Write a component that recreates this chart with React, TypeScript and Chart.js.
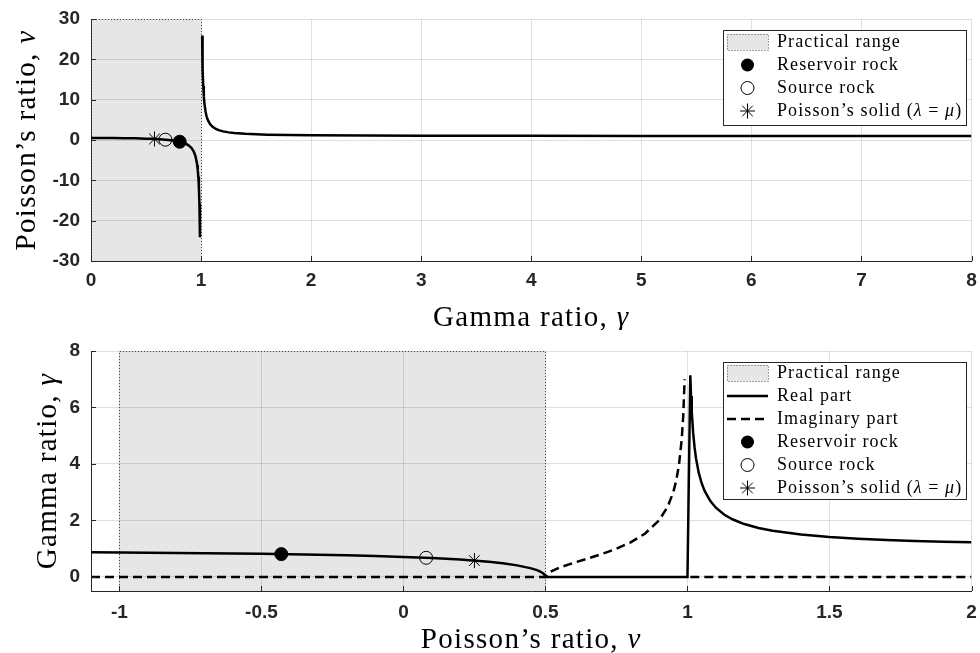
import React, { useEffect, useRef } from 'react';
import { Chart, registerables } from 'chart.js';

Chart.register(...registerables);

// ---- Upper panel: Poisson's ratio as a function of the gamma ratio ----
const GAMMA_LOW = [0, 0.1, 0.2, 0.3, 0.4, 0.5, 0.55, 0.6, 0.65, 0.7, 0.75, 0.8, 0.82, 0.84, 0.86, 0.88, 0.9, 0.91, 0.92, 0.93, 0.94, 0.95, 0.96, 0.965, 0.97, 0.975, 0.98, 0.985, 0.99];
const NU_LOW = [0.5, 0.495, 0.479, 0.451, 0.405, 0.333, 0.283, 0.219, 0.134, 0.02, -0.143, -0.389, -0.526, -0.698, -0.92, -1.216, -1.632, -1.909, -2.255, -2.701, -3.296, -4.128, -5.378, -6.27, -7.46, -9.127, -11.63, -15.79, -24.13];
const GAMMA_HIGH = [1.01, 1.0125, 1.015, 1.02, 1.025, 1.03, 1.04, 1.05, 1.06, 1.08, 1.1, 1.13, 1.16, 1.2, 1.25, 1.3, 1.4, 1.5, 1.6, 1.8, 2, 2.5, 3, 4, 5, 6, 7, 8];
const NU_HIGH = [25.88, 20.88, 17.54, 13.38, 10.88, 9.21, 7.127, 5.878, 5.045, 4.005, 3.381, 2.806, 2.447, 2.136, 1.889, 1.725, 1.521, 1.4, 1.321, 1.223, 1.167, 1.095, 1.063, 1.033, 1.021, 1.014, 1.01, 1.008];

const TOP_X_TICKS = [0, 1, 2, 3, 4, 5, 6, 7, 8];
const TOP_Y_TICKS = [-30, -20, -10, 0, 10, 20, 30];
const TOP_RANGE = [0, 1]; // practical gamma range

// ---- Lower panel: gamma ratio as a function of Poisson's ratio ----
const NU_REAL = [-1.1, -1, -0.9, -0.8, -0.7, -0.6, -0.5, -0.4, -0.3, -0.2, -0.1, 0, 0.1, 0.2, 0.3, 0.35, 0.4, 0.45, 0.47, 0.48, 0.49, 0.495, 0.5, 1.0, 1.01, 1.0125, 1.015, 1.02, 1.025, 1.03, 1.04, 1.05, 1.06, 1.08, 1.1, 1.13, 1.16, 1.2, 1.25, 1.3, 1.4, 1.5, 1.6, 1.7, 1.8, 1.9, 2.0];
const GAMMA_REAL = [0.873, 0.866, 0.858, 0.85, 0.84, 0.829, 0.816, 0.802, 0.784, 0.764, 0.739, 0.707, 0.667, 0.612, 0.535, 0.48, 0.408, 0.302, 0.238, 0.196, 0.14, 0.0995, 0, 0, 7.141, 6.403, 5.86, 5.099, 4.583, 4.203, 3.674, 3.317, 3.055, 2.693, 2.449, 2.201, 2.031, 1.871, 1.732, 1.633, 1.5, 1.414, 1.354, 1.309, 1.275, 1.247, 1.225];
const NU_IMAG_LOW = [-1.1, 0.5, 0.51, 0.55, 0.6, 0.65, 0.7, 0.75, 0.8, 0.85, 0.9, 0.93, 0.95, 0.96, 0.97, 0.98, 0.985, 0.99];
const GAMMA_IMAG_LOW = [0, 0, 0.143, 0.333, 0.5, 0.655, 0.816, 1, 1.225, 1.528, 2, 2.478, 3, 3.391, 3.958, 4.899, 5.686, 7.0];
const NU_IMAG_HIGH = [1.01, 2.0];
const GAMMA_IMAG_HIGH = [0, 0];

const BOTTOM_X_TICKS = [-1, -0.5, 0, 0.5, 1, 1.5, 2];
const BOTTOM_Y_TICKS = [0, 2, 4, 6, 8];
const BOTTOM_RANGE = [-1, 0.5]; // practical Poisson's ratio range

// ---- Rock types: reservoir, source, Poisson's solid ----
const ROCK_NU = [-0.43, 0.08, 0.25];
const ROCK_GAMMA = [0.806, 0.676, 0.577];

const SERIF = '"Liberation Serif", "Times New Roman", serif';
const SANS = '"Liberation Sans", Arial, Helvetica, sans-serif';
const INK = '#262626';
const GRID = 'rgba(0,0,0,0.12)';
const PATCH = '#e6e6e6';
const LINE_W = 2.5;
const DASH = [9, 5];
const TITLE_SIZE = 29;
const TITLE_SPACING = 1.3;

type Part = [string, boolean];
type Entry = { kind: 'patch' | 'line' | 'dash' | 'filled' | 'open' | 'star'; label: Part[] };

const txt = (s: string): Part[] => [[s, false]];
const SOLID_LABEL: Part[] = [['Poisson\u2019s solid (', false], ['\u03bb', true], [' = ', false], ['\u03bc', true], [')', false]];

function drawRich(ctx: CanvasRenderingContext2D, parts: Part[], x: number, y: number, size: number, spacing: number, align: 'center' | 'left') {
  ctx.save();
  ctx.fillStyle = '#000';
  ctx.textBaseline = 'middle';
  ctx.textAlign = 'left';
  (ctx as any).letterSpacing = spacing + 'px';
  const fonts = parts.map(([, it]) => `${it ? 'italic ' : ''}${size}px ${SERIF}`);
  const widths = parts.map(([t], i) => {
    ctx.font = fonts[i];
    return ctx.measureText(t).width;
  });
  const total = widths.reduce((a, b) => a + b, 0);
  let cx = align === 'center' ? x - total / 2 : x;
  parts.forEach(([t], i) => {
    ctx.font = fonts[i];
    ctx.fillText(t, cx, y);
    cx += widths[i];
  });
  ctx.restore();
}

function drawStar(ctx: CanvasRenderingContext2D, x: number, y: number, r: number) {
  ctx.beginPath();
  ctx.moveTo(x - r, y); ctx.lineTo(x + r, y);
  ctx.moveTo(x, y - r); ctx.lineTo(x, y + r);
  const d = r * Math.SQRT1_2;
  ctx.moveTo(x - d, y - d); ctx.lineTo(x + d, y + d);
  ctx.moveTo(x - d, y + d); ctx.lineTo(x + d, y - d);
  ctx.stroke();
}

type Decor = {
  range: number[];
  xTitle: Part[];
  yTitle: Part[];
  xTitleY: number;
  yTitleX: number;
  legend: Entry[];
  box: { x: number; y: number; w: number; h: number; first: number; step: number };
};

function makeDecor(d: Decor) {
  return {
    id: 'decor',
    beforeDraw(chart: any) {
      const { ctx, chartArea: a, scales } = chart;
      const x0 = scales.x.getPixelForValue(d.range[0]);
      const x1 = scales.x.getPixelForValue(d.range[1]);
      ctx.save();
      ctx.fillStyle = PATCH;
      ctx.fillRect(x0, a.top, x1 - x0, a.bottom - a.top);
      ctx.restore();
    },
    beforeDatasetsDraw(chart: any) {
      const { ctx, chartArea: a, scales } = chart;
      const x0 = Math.round(scales.x.getPixelForValue(d.range[0])) + 0.5;
      const x1 = Math.round(scales.x.getPixelForValue(d.range[1])) + 0.5;
      const t = Math.round(a.top) + 0.5;
      ctx.save();
      ctx.strokeStyle = '#444';
      ctx.lineWidth = 1;
      ctx.setLineDash([1, 2]);
      ctx.beginPath();
      ctx.moveTo(x0, a.bottom); ctx.lineTo(x0, t); ctx.lineTo(x1, t); ctx.lineTo(x1, a.bottom);
      ctx.stroke();
      ctx.restore();
    },
    afterDraw(chart: any) {
      const { ctx, chartArea: a, scales } = chart;
      ctx.save();
      // inward tick marks
      ctx.strokeStyle = INK;
      ctx.lineWidth = 1;
      ctx.beginPath();
      scales.x.ticks.forEach((tk: any) => {
        const px = Math.round(scales.x.getPixelForValue(tk.value)) + 0.5;
        ctx.moveTo(px, a.bottom); ctx.lineTo(px, a.bottom - 5);
      });
      scales.y.ticks.forEach((tk: any) => {
        const py = Math.round(scales.y.getPixelForValue(tk.value)) + 0.5;
        ctx.moveTo(a.left, py); ctx.lineTo(a.left + 5, py);
      });
      ctx.stroke();

      // axis titles
      drawRich(ctx, d.xTitle, (a.left + a.right) / 2, d.xTitleY, TITLE_SIZE, TITLE_SPACING, 'center');
      ctx.save();
      ctx.translate(d.yTitleX, (a.top + a.bottom) / 2);
      ctx.rotate(-Math.PI / 2);
      drawRich(ctx, d.yTitle, 0, 0, TITLE_SIZE, TITLE_SPACING, 'center');
      ctx.restore();

      // legend
      const b = d.box;
      ctx.fillStyle = '#fff';
      ctx.fillRect(b.x, b.y, b.w, b.h);
      ctx.strokeStyle = INK;
      ctx.lineWidth = 1;
      ctx.strokeRect(b.x + 0.5, b.y + 0.5, b.w, b.h);
      const ix = b.x + 24.5;
      d.legend.forEach((e, i) => {
        const cy = b.y + b.first + i * b.step;
        ctx.save();
        ctx.strokeStyle = '#000';
        ctx.fillStyle = '#000';
        if (e.kind === 'patch') {
          ctx.fillStyle = PATCH;
          ctx.fillRect(b.x + 4, cy - 8, 41, 16);
          ctx.strokeStyle = '#444';
          ctx.setLineDash([1, 2]);
          ctx.strokeRect(b.x + 4.5, cy - 7.5, 41, 16);
        } else if (e.kind === 'line' || e.kind === 'dash') {
          ctx.lineWidth = LINE_W;
          if (e.kind === 'dash') ctx.setLineDash(DASH);
          ctx.beginPath();
          ctx.moveTo(b.x + 4, cy); ctx.lineTo(b.x + 45, cy);
          ctx.stroke();
        } else if (e.kind === 'filled') {
          ctx.beginPath();
          ctx.arc(ix, cy, 6.5, 0, Math.PI * 2);
          ctx.fill();
        } else if (e.kind === 'open') {
          ctx.lineWidth = 1;
          ctx.beginPath();
          ctx.arc(ix, cy, 6.5, 0, Math.PI * 2);
          ctx.stroke();
        } else {
          ctx.lineWidth = 1;
          drawStar(ctx, ix, cy, 7.5);
        }
        ctx.restore();
        drawRich(ctx, e.label, b.x + 54, cy, 18, 1.1, 'left');
      });
      ctx.restore();
    },
  };
}

type PanelSpec = {
  datasets: any[];
  xMin: number; xMax: number; yMin: number; yMax: number;
  xTicks: number[]; yTicks: number[];
  top: number; xAxisHeight: number; xPad: number;
  decor: Decor;
};

function buildPanel(canvas: HTMLCanvasElement, s: PanelSpec) {
  const tickFont = { family: SANS, size: 19, weight: 'bold' as const };
  return new Chart(canvas, {
    type: 'line',
    data: { datasets: s.datasets },
    options: {
      responsive: false,
      animation: false,
      devicePixelRatio: 1,
      events: [],
      layout: { padding: { top: s.top, right: 3, left: 0, bottom: 0 } },
      plugins: { legend: { display: false }, tooltip: { enabled: false }, title: { display: false } },
      scales: {
        x: {
          type: 'linear',
          min: s.xMin,
          max: s.xMax,
          afterBuildTicks: (sc: any) => { sc.ticks = s.xTicks.map((v) => ({ value: v })); },
          afterFit: (sc: any) => { sc.height = s.xAxisHeight; sc.paddingLeft = 0; sc.paddingRight = 0; },
          grid: { color: GRID, drawTicks: false, lineWidth: 1 },
          border: { color: INK, width: 1 },
          ticks: { font: tickFont, color: INK, padding: s.xPad, maxRotation: 0, autoSkip: false, callback: (v: any) => String(v) },
        },
        y: {
          type: 'linear',
          min: s.yMin,
          max: s.yMax,
          afterBuildTicks: (sc: any) => { sc.ticks = s.yTicks.map((v) => ({ value: v })); },
          afterFit: (sc: any) => { sc.width = 91; sc.paddingTop = 0; sc.paddingBottom = 0; },
          grid: { color: GRID, drawTicks: false, lineWidth: 1 },
          border: { color: INK, width: 1 },
          ticks: { font: tickFont, color: INK, padding: 11, autoSkip: false, callback: (v: any) => String(v) },
        },
      },
    } as any,
    plugins: [makeDecor(s.decor)],
  });
}

const pts = (xs: number[], ys: number[]) => xs.map((x, i) => ({ x, y: ys[i] }));

const curve = (data: any[], dashed = false) => ({
  data,
  borderColor: '#000',
  borderWidth: LINE_W,
  borderDash: dashed ? DASH : [],
  pointRadius: 0,
  fill: false,
  tension: 0,
  order: 2,
});

const markerSets = (xs: number[], ys: number[]) => [
  { data: [{ x: xs[0], y: ys[0] }], showLine: false, pointStyle: 'circle', pointRadius: 6.5, backgroundColor: '#000', borderColor: '#000', borderWidth: 1, order: 0 },
  { data: [{ x: xs[1], y: ys[1] }], showLine: false, pointStyle: 'circle', pointRadius: 6.5, backgroundColor: 'rgba(0,0,0,0)', borderColor: '#000', borderWidth: 1, order: 0 },
  { data: [{ x: xs[2], y: ys[2] }], showLine: false, pointStyle: 'star', pointRadius: 7.5, backgroundColor: '#000', borderColor: '#000', borderWidth: 1, order: 0 },
];

export default function App() {
  const topRef = useRef<HTMLCanvasElement>(null);
  const bottomRef = useRef<HTMLCanvasElement>(null);

  useEffect(() => {
    const top = buildPanel(topRef.current!, {
      datasets: [
        ...markerSets(ROCK_GAMMA, ROCK_NU),
        curve(pts(GAMMA_LOW, NU_LOW)),
        curve(pts(GAMMA_HIGH, NU_HIGH)),
      ],
      xMin: 0, xMax: 8, yMin: -30, yMax: 30,
      xTicks: TOP_X_TICKS, yTicks: TOP_Y_TICKS,
      top: 19, xAxisHeight: 69, xPad: 8,
      decor: {
        range: TOP_RANGE,
        xTitle: [['Gamma ratio, ', false], ['\u03b3', true]],
        yTitle: [['Poisson\u2019s ratio, ', false], ['\u03bd', true]],
        xTitleY: 318,
        yTitleX: 27,
        legend: [
          { kind: 'patch', label: txt('Practical range') },
          { kind: 'filled', label: txt('Reservoir rock') },
          { kind: 'open', label: txt('Source rock') },
          { kind: 'star', label: SOLID_LABEL },
        ],
        box: { x: 723, y: 30, w: 243, h: 95, first: 12, step: 23 },
      },
    });

    const bottom = buildPanel(bottomRef.current!, {
      datasets: [
        ...markerSets(ROCK_NU, ROCK_GAMMA),
        curve(pts(NU_REAL, GAMMA_REAL)),
        curve(pts(NU_IMAG_LOW, GAMMA_IMAG_LOW), true),
        curve(pts(NU_IMAG_HIGH, GAMMA_IMAG_HIGH), true),
      ],
      xMin: -1.1, xMax: 2, yMin: -0.5, yMax: 8,
      xTicks: BOTTOM_X_TICKS, yTicks: BOTTOM_Y_TICKS,
      top: 21, xAxisHeight: 62, xPad: 10,
      decor: {
        range: BOTTOM_RANGE,
        xTitle: [['Poisson\u2019s ratio, ', false], ['\u03bd', true]],
        yTitle: [['Gamma ratio, ', false], ['\u03b3', true]],
        xTitleY: 310,
        yTitleX: 48,
        legend: [
          { kind: 'patch', label: txt('Practical range') },
          { kind: 'line', label: txt('Real part') },
          { kind: 'dash', label: txt('Imaginary part') },
          { kind: 'filled', label: txt('Reservoir rock') },
          { kind: 'open', label: txt('Source rock') },
          { kind: 'star', label: SOLID_LABEL },
        ],
        box: { x: 723, y: 32, w: 243, h: 137, first: 11, step: 23 },
      },
    });

    return () => {
      top.destroy();
      bottom.destroy();
    };
  }, []);

  return (
    <div style={{ position: 'absolute', left: 0, top: 0, width: 980, height: 653, background: '#fff', overflow: 'hidden' }}>
      <canvas ref={topRef} width={980} height={330} style={{ position: 'absolute', left: 0, top: 0, display: 'block' }} />
      <canvas ref={bottomRef} width={980} height={323} style={{ position: 'absolute', left: 0, top: 330, display: 'block' }} />
    </div>
  );
}
